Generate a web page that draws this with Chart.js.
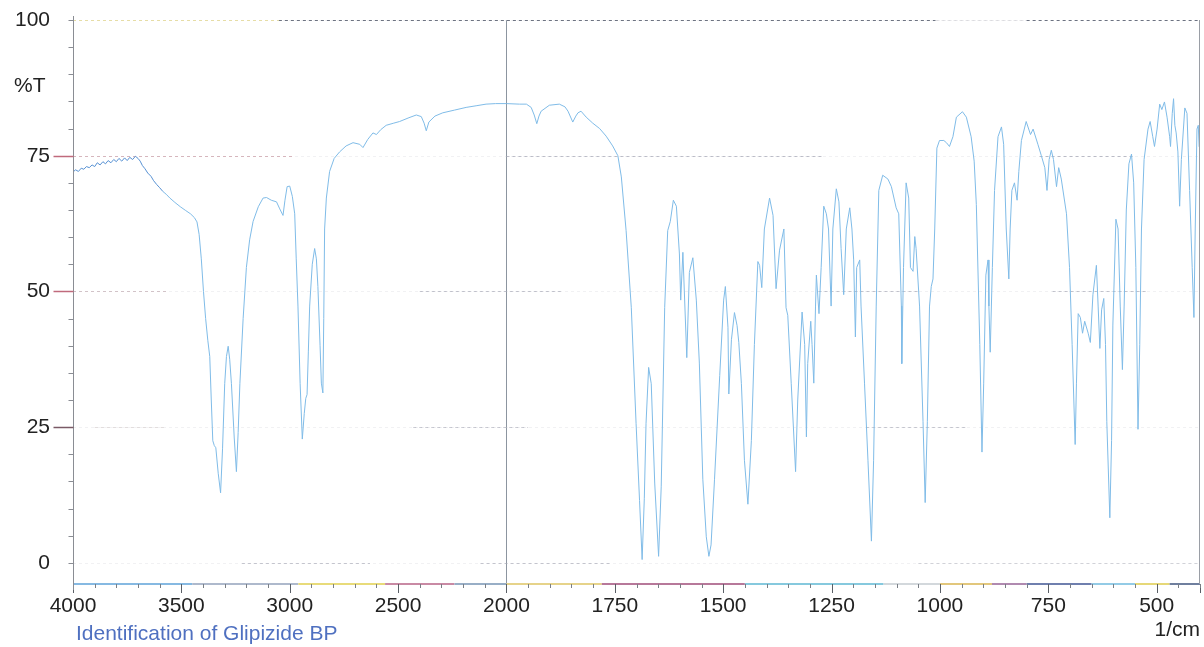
<!DOCTYPE html>
<html>
<head>
<meta charset="utf-8">
<script src="https://cdn.jsdelivr.net/npm/chart.js@4.4.1/dist/chart.umd.min.js"></script>
<style>
  html, body { margin: 0; padding: 0; background: #ffffff; }
  canvas { display: block; }
</style>
</head>
<body>
<canvas id="ir" width="1204" height="647"></canvas>
<script>
// ---- spectrum data -------------------------------------------------------
const X_TICK_VALUES = [4000, 3500, 3000, 2500, 2000, 1750, 1500, 1250, 1000, 750, 500];
const Y_TICK_VALUES = [0, 25, 50, 75, 100];

const Y_UNIT = '%T';
const X_UNIT = '1/cm';
const CAPTION = 'Identification of Glipizide BP';

// wavenumber (1/cm), descending
const wavenumbers = [
  4000, 3988, 3975, 3962, 3950, 3938, 3925, 3912, 3900, 3888, 3875, 3862, 3850, 3838, 3825, 3812,
  3800, 3788, 3775, 3762, 3750, 3738, 3725, 3712, 3700, 3690, 3680, 3668, 3655, 3640, 3628, 3614,
  3600, 3585, 3570, 3553, 3530, 3505, 3480, 3458, 3440, 3428, 3418, 3408, 3398, 3388, 3378, 3369,
  3362, 3355, 3348, 3341, 3330, 3319, 3310, 3300, 3292, 3284, 3277, 3269, 3256, 3246, 3238, 3230,
  3215, 3200, 3185, 3169, 3145, 3123, 3107, 3085, 3061, 3046, 3031, 3022, 3012, 3000, 2988, 2977,
  2970, 2962, 2952, 2942, 2933, 2926, 2920, 2914, 2908, 2896, 2885, 2877, 2870, 2860, 2854, 2847,
  2843, 2839, 2831, 2816, 2795, 2770, 2740, 2708, 2677, 2662, 2640, 2616, 2600, 2580, 2555, 2520,
  2493, 2450, 2416, 2393, 2380, 2370, 2358, 2330, 2294, 2240, 2186, 2140, 2094, 2050, 2000,
  1970, 1954, 1943, 1936, 1930, 1925, 1920, 1901, 1878, 1865, 1858, 1847, 1840, 1835, 1828, 1816,
  1801, 1785, 1770, 1755, 1743, 1735, 1724, 1712, 1701, 1693, 1687, 1682, 1678, 1672, 1666, 1658,
  1649, 1643, 1635, 1628, 1622, 1615, 1608, 1601, 1598, 1593, 1584, 1578, 1570, 1562, 1555, 1547,
  1539, 1533, 1528, 1520, 1508, 1499, 1495, 1489, 1487, 1481, 1474, 1468, 1464, 1458, 1451, 1443,
  1435, 1428, 1420, 1416, 1411, 1405, 1393, 1385, 1378, 1370, 1360, 1355, 1351, 1343, 1333, 1328,
  1318, 1312, 1308, 1305, 1298, 1295, 1291, 1287, 1285, 1279, 1274, 1268, 1262, 1257, 1251, 1247,
  1239, 1233, 1228, 1222, 1216, 1208, 1203, 1199, 1195, 1192, 1185, 1182, 1174, 1166, 1158, 1153,
  1147, 1141, 1132, 1120, 1112, 1101, 1095, 1089, 1088, 1084, 1078, 1072, 1068, 1062, 1058, 1055,
  1047, 1039, 1034, 1029, 1024, 1020, 1016, 1012, 1007, 1001, 991, 985, 978, 970, 962, 948,
  939, 928, 921, 916, 908, 903, 899, 894, 889, 887, 884, 879, 874, 866, 858, 853,
  847, 841, 838, 834, 828, 822, 818, 812, 801, 791, 785, 774, 766, 758, 753, 748,
  743, 738, 731, 726, 720, 708, 701, 695, 688, 685, 681, 676, 671, 666, 658, 653,
  647, 639, 635, 631, 627, 622, 618, 615, 608, 604, 601, 594, 589, 584, 579, 575,
  570, 564, 558, 553, 548, 543, 539, 535, 529, 520, 515, 509, 505, 499, 493, 488,
  482, 476, 470, 468, 464, 461, 458, 455, 451, 447, 443, 435, 430, 424, 418, 414,
  411, 407, 404, 402, 400
];

// transmittance (%T) at each wavenumber above
const transmittance = [
  72.0, 72.4, 72.1, 72.7, 72.5, 73.0, 72.8, 73.3, 73.0, 73.7, 73.3, 73.9, 73.5, 74.1, 73.7, 74.3,
  73.9, 74.5, 74.0, 74.6, 74.1, 74.7, 74.3, 74.9, 74.5, 74.0, 73.2, 72.6, 71.8, 71.2, 70.4, 69.7,
  69.1, 68.4, 67.9, 67.2, 66.4, 65.6, 64.9, 64.3, 63.6, 62.8, 60.5, 56.0, 50.0, 45.0, 41.0, 38.0,
  30.0, 22.5, 21.6, 21.2, 16.5, 12.9, 21.0, 33.0, 38.0, 39.9, 37.5, 33.0, 23.0, 16.8, 24.0, 33.0,
  45.0, 54.4, 59.5, 62.9, 65.6, 67.2, 67.3, 66.8, 66.5, 65.2, 64.0, 66.8, 69.3, 69.4, 67.5, 64.3,
  56.0, 47.3, 33.0, 22.8, 27.5, 30.3, 31.0, 39.0, 47.3, 55.0, 57.9, 56.0, 50.9, 40.0, 33.1, 31.3,
  45.0, 61.5, 67.2, 72.1, 74.5, 75.7, 76.8, 77.4, 77.1, 76.5, 78.0, 79.2, 78.9, 79.8, 80.6, 81.0,
  81.3, 82.0, 82.5, 82.2, 81.0, 79.6, 81.2, 82.3, 82.9, 83.4, 83.9, 84.2, 84.5, 84.6, 84.6,
  84.5, 84.5, 83.9, 82.5, 80.9, 82.3, 83.2, 84.3, 84.5, 84.0, 83.2, 81.2, 82.3, 82.9, 83.2, 82.1,
  81.0, 80.0, 78.6, 76.8, 75.0, 71.1, 61.2, 47.0, 25.7, 11.5, 0.6, 11.8, 25.7, 36.0, 33.0, 14.7,
  1.2, 14.0, 47.0, 61.2, 62.9, 66.8, 65.7, 56.9, 48.4, 57.2, 37.8, 53.5, 56.2, 48.4, 36.8, 15.4,
  4.8, 1.2, 3.3, 15.4, 34.5, 48.4, 50.9, 43.4, 31.1, 41.1, 46.1, 43.7, 40.6, 33.0, 18.9, 10.8,
  22.5, 40.2, 55.5, 54.8, 50.7, 61.5, 67.2, 64.0, 50.5, 57.6, 61.5, 47.0, 45.6, 33.0, 16.8, 30.0,
  46.2, 40.2, 23.2, 36.7, 44.5, 40.2, 33.1, 47.3, 53.0, 45.9, 54.4, 65.7, 64.3, 61.5, 47.3, 61.5,
  68.9, 66.5, 57.9, 49.4, 61.5, 65.4, 61.5, 55.8, 41.6, 54.4, 55.8, 47.3, 33.1, 18.9, 4.0, 18.9,
  47.3, 68.6, 71.4, 70.7, 69.3, 65.4, 64.3, 47.3, 36.7, 54.4, 70.0, 67.2, 54.4, 53.7, 60.1, 57.9,
  47.3, 26.0, 11.1, 26.0, 47.3, 50.9, 52.3, 61.5, 76.4, 77.8, 77.8, 77.4, 76.7, 78.5, 82.1, 83.1,
  82.1, 78.5, 74.0, 66.0, 40.2, 20.4, 33.1, 53.0, 55.8, 47.3, 38.8, 54.4, 68.6, 78.5, 80.3, 77.1,
  61.5, 52.3, 61.5, 68.6, 70.0, 66.8, 72.1, 77.8, 81.3, 78.9, 79.9, 77.1, 75.0, 72.8, 68.6, 74.3,
  76.0, 74.3, 69.3, 72.8, 70.7, 64.3, 54.4, 40.2, 21.8, 33.1, 45.9, 45.2, 42.3, 44.5, 42.3, 40.6,
  49.4, 54.8, 47.3, 39.5, 46.6, 48.7, 40.2, 26.0, 8.3, 22.5, 43.8, 63.3, 61.5, 47.3, 35.6, 47.3,
  65.0, 73.5, 75.3, 70.0, 54.4, 24.6, 40.2, 61.5, 74.3, 79.9, 81.3, 78.5, 76.7, 79.9, 84.5, 83.5,
  84.9, 82.1, 78.5, 76.7, 82.8, 85.5, 80.6, 79.2, 75.7, 65.7, 74.3, 83.8, 82.8, 68.6, 54.4, 45.2,
  61.5, 79.9, 80.6, 76.7, 77.0
];

// ---- axis geometry -------------------------------------------------------
const X_MIN = 400, X_MAX = 4000;
const Y_MIN = -3.9, Y_MAX = 100;
const SCALE_BREAK = 2000;   // below this wavenumber the axis is stretched
const LOW_EXPANSION = 2;    // stretch factor of the low-wavenumber part

const FONT = "'Liberation Sans', Arial, Helvetica, sans-serif";
const LINE_COLOUR = 'rgb(128, 188, 232)';
const NOISY_COLOUR = 'rgb(88, 146, 212)';

// colour bands along the bottom axis line [from, to, colour]
const AXIS_BANDS = [
  [4000, 3450, '#86b9e2'], [3450, 2960, '#aeb9cc'], [2960, 2560, '#e8db7a'],
  [2560, 2240, '#c98aa4'], [2240, 2000, '#98aec6'], [2000, 1780, '#e6d38a'],
  [1780, 1450, '#b7789a'], [1450, 1130, '#86c9de'], [1130, 1000, '#d3d8dc'],
  [1000, 880, '#e2c77c'], [880, 800, '#b08ab0'], [800, 650, '#6f7fae'],
  [650, 550, '#93cbe6'], [550, 470, '#e6d878'], [470, 400, '#6f7f9e']
];

// visible stretches of the dashed horizontal rules [value, from, to, colour]
const RULE_BANDS = [
  [100, 4000, 3050, 'rgba(226,214,140,0.75)'], [100, 3050, 1010, 'rgba(85,92,108,0.85)'],
  [100, 1010, 800, 'rgba(200,200,205,0.55)'], [100, 800, 400, 'rgba(85,92,108,0.85)'],
  [75, 4000, 2980, 'rgba(200,150,160,0.65)'], [75, 2000, 1270, 'rgba(150,152,168,0.6)'],
  [75, 770, 555, 'rgba(150,152,168,0.6)'],
  [50, 4000, 3570, 'rgba(190,165,172,0.6)'], [50, 2400, 1870, 'rgba(150,152,168,0.55)'],
  [50, 1280, 1050, 'rgba(150,152,168,0.55)'], [50, 740, 520, 'rgba(150,152,168,0.55)'],
  [25, 3900, 3570, 'rgba(190,180,180,0.45)'], [25, 2430, 1950, 'rgba(150,152,168,0.5)'],
  [25, 1170, 940, 'rgba(150,152,168,0.5)'],
  [0, 3220, 2630, 'rgba(150,152,168,0.5)'], [0, 2120, 1760, 'rgba(150,152,168,0.5)'],
  [0, 1050, 400, 'rgba(170,172,185,0.45)']
];

// ---- wavenumber axis with a 2x expansion below 2000 1/cm -----------------
class SplitWavenumberScale extends Chart.LinearScale {
  static id = 'splitWavenumber';
  static defaults = {};

  buildTicks() {
    return X_TICK_VALUES.map(value => ({ value }));
  }
  _weighted(v) {
    return v >= SCALE_BREAK
      ? this.max - v
      : (this.max - SCALE_BREAK) + LOW_EXPANSION * (SCALE_BREAK - v);
  }
  getPixelForValue(v) {
    return this.left + this.width * this._weighted(v) / this._weighted(this.min);
  }
  getValueForPixel(p) {
    const w = (p - this.left) / this.width * this._weighted(this.min);
    const hiSpan = this.max - SCALE_BREAK;
    return w <= hiSpan ? this.max - w : SCALE_BREAK - (w - hiSpan) / LOW_EXPANSION;
  }
}
Chart.register(SplitWavenumberScale);

function minorSteps() {
  const out = [];
  for (let v = X_MAX; v >= SCALE_BREAK; v -= 100) out.push(v);
  for (let v = SCALE_BREAK - 50; v >= X_MIN; v -= 50) out.push(v);
  return out.filter(v => !X_TICK_VALUES.includes(v));
}

function stroke(ctx, x0, y0, x1, y1) {
  ctx.beginPath();
  ctx.moveTo(x0, y0);
  ctx.lineTo(x1, y1);
  ctx.stroke();
}

// rules, axis lines, tick marks and free text around the plot
const frame = {
  id: 'spectrumFrame',
  beforeDraw(chart) {
    const { ctx, width, height } = chart;
    ctx.save();
    ctx.fillStyle = '#ffffff';
    ctx.fillRect(0, 0, width, height);
    ctx.restore();
  },
  beforeDatasetsDraw(chart) {
    const { ctx, chartArea: a, scales: { x, y } } = chart;
    ctx.save();
    ctx.lineWidth = 1;
    ctx.setLineDash([3, 3]);
    Y_TICK_VALUES.forEach(v => {
      const yy = Math.round(y.getPixelForValue(v)) + 0.5;
      ctx.strokeStyle = 'rgba(215,215,222,0.35)';
      stroke(ctx, a.left, yy, a.right, yy);
    });
    RULE_BANDS.forEach(([v, w0, w1, c]) => {
      const yy = Math.round(y.getPixelForValue(v)) + 0.5;
      ctx.strokeStyle = c;
      stroke(ctx, x.getPixelForValue(w0), yy, x.getPixelForValue(w1), yy);
    });
    ctx.restore();
  },
  afterDraw(chart) {
    const { ctx, chartArea: a, scales: { x, y } } = chart;
    ctx.save();
    ctx.setLineDash([]);

    // bottom axis line in coloured bands
    const yb = a.bottom;
    ctx.lineWidth = 2;
    AXIS_BANDS.forEach(([w0, w1, c]) => {
      ctx.strokeStyle = c;
      stroke(ctx, x.getPixelForValue(w0), yb, x.getPixelForValue(w1), yb);
    });

    // x tick marks
    ctx.lineWidth = 1;
    ctx.strokeStyle = '#5a5f66';
    X_TICK_VALUES.concat([X_MIN]).forEach(v => {
      const xx = Math.round(x.getPixelForValue(v)) + 0.5;
      stroke(ctx, xx, yb, xx, yb + 9);
    });
    ctx.strokeStyle = '#7a7f86';
    minorSteps().forEach(v => {
      const xx = Math.round(x.getPixelForValue(v)) + 0.5;
      stroke(ctx, xx, yb, xx, yb + 4);
    });

    // left axis and right edge
    const xl = Math.round(a.left) + 0.5;
    ctx.strokeStyle = '#8a8d94';
    stroke(ctx, xl, a.top - 4, xl, yb + 6);
    const xr = Math.round(a.right) - 0.5;
    ctx.strokeStyle = '#9a9ea6';
    stroke(ctx, xr, a.top, xr, yb);

    // y tick marks
    for (let v = 0; v <= 100; v += 5) {
      const yy = Math.round(y.getPixelForValue(v)) + 0.5;
      const major = v === 25 || v === 50 || v === 75;
      ctx.strokeStyle = major ? (v === 25 ? '#7a5a66' : '#c06a7c') : '#8a8d94';
      ctx.lineWidth = major ? 1.5 : 1;
      stroke(ctx, xl - (major ? 20 : 5), yy, xl, yy);
    }

    // free text
    ctx.font = `21px ${FONT}`;
    ctx.textBaseline = 'middle';
    ctx.fillStyle = '#222222';
    ctx.textAlign = 'left';
    ctx.fillText(Y_UNIT, 14, 86);
    ctx.textAlign = 'right';
    ctx.fillText(X_UNIT, a.right, 630);
    ctx.textAlign = 'left';
    ctx.fillStyle = '#4f70c0';
    ctx.fillText(CAPTION, 76, 634);
    ctx.restore();
  }
};

const points = wavenumbers.map((w, i) => ({ x: w, y: transmittance[i] }));

new Chart(document.getElementById('ir'), {
  type: 'line',
  data: {
    datasets: [{
      data: points,
      borderColor: LINE_COLOUR,
      borderWidth: 1,
      pointRadius: 0,
      tension: 0,
      fill: false,
      segment: {
        borderColor: c => (c.p0.parsed.x > 3590 ? NOISY_COLOUR : undefined)
      }
    }]
  },
  options: {
    responsive: false,
    animation: false,
    events: [],
    layout: { padding: { top: 20, right: 4, left: 0, bottom: 0 } },
    plugins: { legend: { display: false }, tooltip: { enabled: false }, title: { display: false } },
    scales: {
      x: {
        type: 'splitWavenumber',
        min: X_MIN,
        max: X_MAX,
        afterFit: s => { s.height = 63; s.paddingLeft = 0; s.paddingRight = 0; },
        border: { display: false },
        grid: {
          drawTicks: false,
          lineWidth: 1,
          color: c => (c.tick && c.tick.value === SCALE_BREAK ? 'rgba(128,138,150,0.9)' : 'rgba(0,0,0,0)')
        },
        ticks: {
          autoSkip: false,
          maxRotation: 0,
          padding: 10,
          color: '#222222',
          font: { family: FONT, size: 21 },
          callback: v => String(v)
        }
      },
      y: {
        min: Y_MIN,
        max: Y_MAX,
        bounds: 'data',
        afterBuildTicks: s => { s.ticks = Y_TICK_VALUES.map(value => ({ value })); },
        afterFit: s => { s.width = 73; s.paddingTop = 0; s.paddingBottom = 0; },
        border: { display: false },
        grid: { display: false, drawTicks: false },
        ticks: {
          padding: 23,
          color: '#222222',
          font: { family: FONT, size: 21 },
          callback: v => String(v)
        }
      }
    }
  },
  plugins: [frame]
});
</script>
</body>
</html>
